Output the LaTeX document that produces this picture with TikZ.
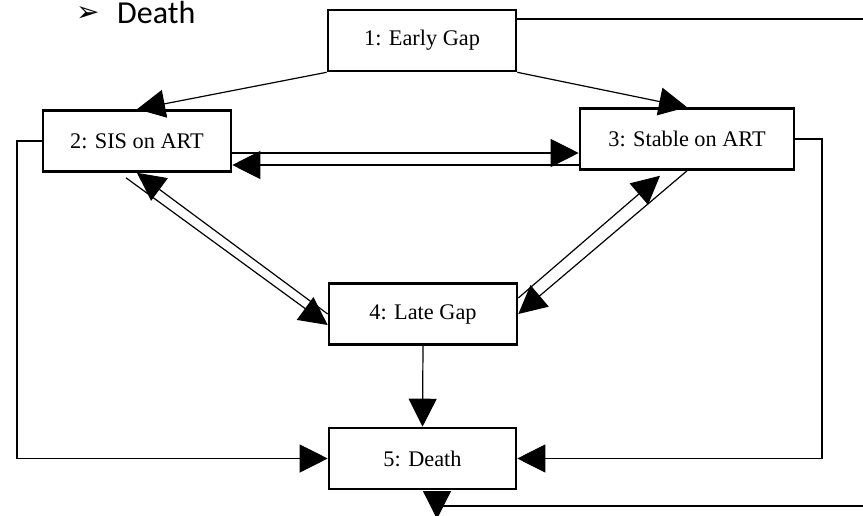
\documentclass[tikz,border=0pt]{standalone}
\usepackage{fontspec}
\setmainfont{Liberation Serif}
\newfontfamily\carlito{Carlito}
\newfontfamily\dejavu{DejaVu Sans}
\usetikzlibrary{arrows.meta,calc}
\begin{document}
\begin{tikzpicture}[x=1pt,y=-1pt,
  box/.style={draw,line width=2.6pt,minimum width=#1,minimum height=61pt,inner sep=0pt,
    font=\fontsize{22.3}{25}\selectfont},
  conn/.style={line width=1.2pt},
  arr/.style={conn,-{Triangle[length=28pt,width=28pt]}}]
\useasboundingbox (0,0) rectangle (863,516);
% title text
\node[anchor=base west,inner sep=0pt,font=\dejavu\fontsize{28}{30}\selectfont] (bul) at (76,22) {➢};
\node[anchor=base west,inner sep=0pt,font=\carlito\fontsize{32}{36}\selectfont] (dt) at (117,24) {Death};
% boxes
\node[box=188pt] (b1) at (422,40.5) {1: Early Gap};
\node[box=188pt] (b2) at (137,141) {2: SIS on ART};
\node[box=214pt] (b3) at (687,139) {3: Stable on ART};
\node[box=188pt] (b4) at (423,314) {4: Late Gap};
\node[box=187pt] (b5) at (422.5,458.5) {5: Death};
% connectors
\draw[arr] (b1.south west) -- (b2.north);
\draw[arr] (b1.south east) -- (b3.north);
\draw[arr] ($(b2.east)+(0,12)$) -- ($(b3.west)+(0,14)$);
\draw[arr] ($(b3.west)+(0,26)$) -- ($(b2.east)+(0,24)$);
\coordinate (d1s) at ($(b2.south)+(-11,5)$);
\draw[arr] (d1s) -- ($(b4.west)+(0,11)$);
\draw[arr] (b4.west) -- (b2.south);
\draw[arr] (b3.south) -- (b4.east);
\draw[arr] ($(b4.east)+(0,-16)$) -- ($(b3.south)+(-27,5)$);
\draw[arr] (b4.south) -- (b5.north);
\coordinate (lc) at (17,0);
\draw[arr] (b2.west) -| (lc |- b5.west) -- (b5.west);
\coordinate (rc) at (822,0);
\draw[arr] (b3.east) -| (rc |- b5.east) -- (b5.east);
\coordinate (tr) at (863,19);
\draw[conn] (b1.east |- tr) -- (tr);
\coordinate (br) at (863,506);
\coordinate (bt) at (437,519);
\draw[arr] (br) -- (br -| bt) -- (bt);
\end{tikzpicture}
\end{document}
